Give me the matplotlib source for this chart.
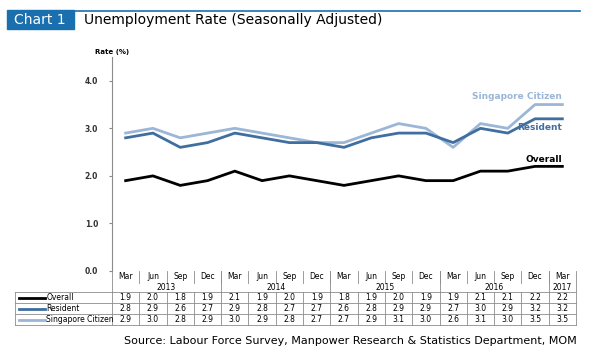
import matplotlib.pyplot as plt

months = ['Mar', 'Jun', 'Sep', 'Dec'] * 4 + ['Mar']
years = ['2013', '2014', '2015', '2016', '2017']
overall = [1.9, 2.0, 1.8, 1.9, 2.1, 1.9, 2.0, 1.9, 1.8, 1.9, 2.0, 1.9, 1.9, 2.1, 2.1, 2.2, 2.2]
resident = [2.8, 2.9, 2.6, 2.7, 2.9, 2.8, 2.7, 2.7, 2.6, 2.8, 2.9, 2.9, 2.7, 3.0, 2.9, 3.2, 3.2]
citizen = [2.9, 3.0, 2.8, 2.9, 3.0, 2.9, 2.8, 2.7, 2.7, 2.9, 3.1, 3.0, 2.6, 3.1, 3.0, 3.5, 3.5]

c_over = '#000000'
c_res = '#3f6e9f'
c_cit = '#9bb6d6'
grid = '#8c8c8c'

W, H = 600, 360
fig = plt.figure(figsize=(6, 3.6), dpi=100)

def fx(px):
    return px / W

def fy(py):
    return 1 - py / H

# header
fig.patches.append(plt.Rectangle((fx(7), fy(29)), fx(67), 19 / H, transform=fig.transFigure,
                                  color='#1a6fae', zorder=1))
fig.add_artist(plt.Line2D([fx(74), fx(580)], [fy(11), fy(11)], color='#1a6fae', lw=1.2))
fig.text(fx(40), fy(20), 'Chart 1', color='white', fontsize=10, ha='center', va='center')
fig.text(fx(84), fy(20), 'Unemployment Rate (Seasonally Adjusted)', fontsize=10,
         ha='left', va='center')

# main chart
n = len(months)
x = list(range(n))
left, right, top, bottom = 112, 576, 57, 271
ax = fig.add_axes([fx(left), fy(bottom), fx(right - left), (bottom - top) / H])
ax.plot(x, citizen, color=c_cit, lw=2)
ax.plot(x, resident, color=c_res, lw=2)
ax.plot(x, overall, color=c_over, lw=2)
ax.set_xlim(-0.5, n - 0.5)
ax.set_ylim(0, 4.5)
ax.set_yticks([0, 1, 2, 3, 4])
ax.set_yticklabels(['0.0', '1.0', '2.0', '3.0', '4.0'], fontsize=5.5, fontweight='bold', color='#333333')
ax.set_xticks([])
for s in ['top', 'right', 'bottom']:
    ax.spines[s].set_visible(False)
ax.spines['left'].set_color(grid)
ax.tick_params(axis='y', length=2, color=grid, pad=8)
ax.text(-0.5, 4.55, 'Rate (%)', fontsize=5, fontweight='bold', ha='center', va='bottom')

ax.text(n - 1, citizen[-1] + 0.08, 'Singapore Citizen', color=c_cit, fontsize=6.5,
        fontweight='bold', ha='right', va='bottom')
ax.text(n - 1, resident[-1] - 0.08, 'Resident', color=c_res, fontsize=6.5,
        fontweight='bold', ha='right', va='top')
ax.text(n - 1, overall[-1] + 0.05, 'Overall', color=c_over, fontsize=6.5,
        fontweight='bold', ha='right', va='bottom')

# table below, y in pixel units (inverted)
tb = fig.add_axes([fx(left), fy(325), fx(right - left), (325 - bottom) / H])
tb.set_xlim(-0.5, n - 0.5)
tb.set_ylim(325, bottom)
tb.axis('off')
lk = dict(color=grid, lw=0.6, clip_on=False)
xl = -0.5 - (left - 15) / ((right - left) / n)

# month row / year row
for i, m in enumerate(months):
    tb.text(i, 276.5, m, fontsize=5.5, ha='center', va='center')
for i in range(1, n):
    tb.plot([i - 0.5, i - 0.5], [bottom, 283], **lk)
for k, yr in enumerate(years):
    c0 = 4 * k
    c1 = min(4 * k + 3, n - 1)
    tb.text((c0 + c1) / 2, 287, yr, fontsize=5.5, ha='center', va='center')
    tb.plot([c0 - 0.5, c0 - 0.5], [bottom, 292], **lk)
tb.plot([n - 0.5, n - 0.5], [bottom, 325], **lk)

# data rows
rows = [('Overall', overall, c_over), ('Resident', resident, c_res), ('Singapore Citizen', citizen, c_cit)]
ys = [292, 303, 314, 325]
for yy in ys:
    tb.plot([xl, n - 0.5], [yy, yy], **lk)
tb.plot([xl, xl], [292, 325], **lk)
for i in range(n):
    tb.plot([i - 0.5, i - 0.5], [292, 325], **lk)
for r, (name, vals, col) in enumerate(rows):
    yc = (ys[r] + ys[r + 1]) / 2
    tb.plot([xl + 0.15, xl + 1.1], [yc, yc], color=col, lw=2, clip_on=False)
    tb.text(xl + 1.15, yc, name, fontsize=5.5, ha='left', va='center')
    for i, v in enumerate(vals):
        tb.text(i, yc, f'{v:.1f}', fontsize=5.5, ha='center', va='center')

fig.text(fx(577), fy(341), 'Source: Labour Force Survey, Manpower Research & Statistics Department, MOM',
         fontsize=8, ha='right', va='center')

fig.savefig('out.png', dpi=100)
